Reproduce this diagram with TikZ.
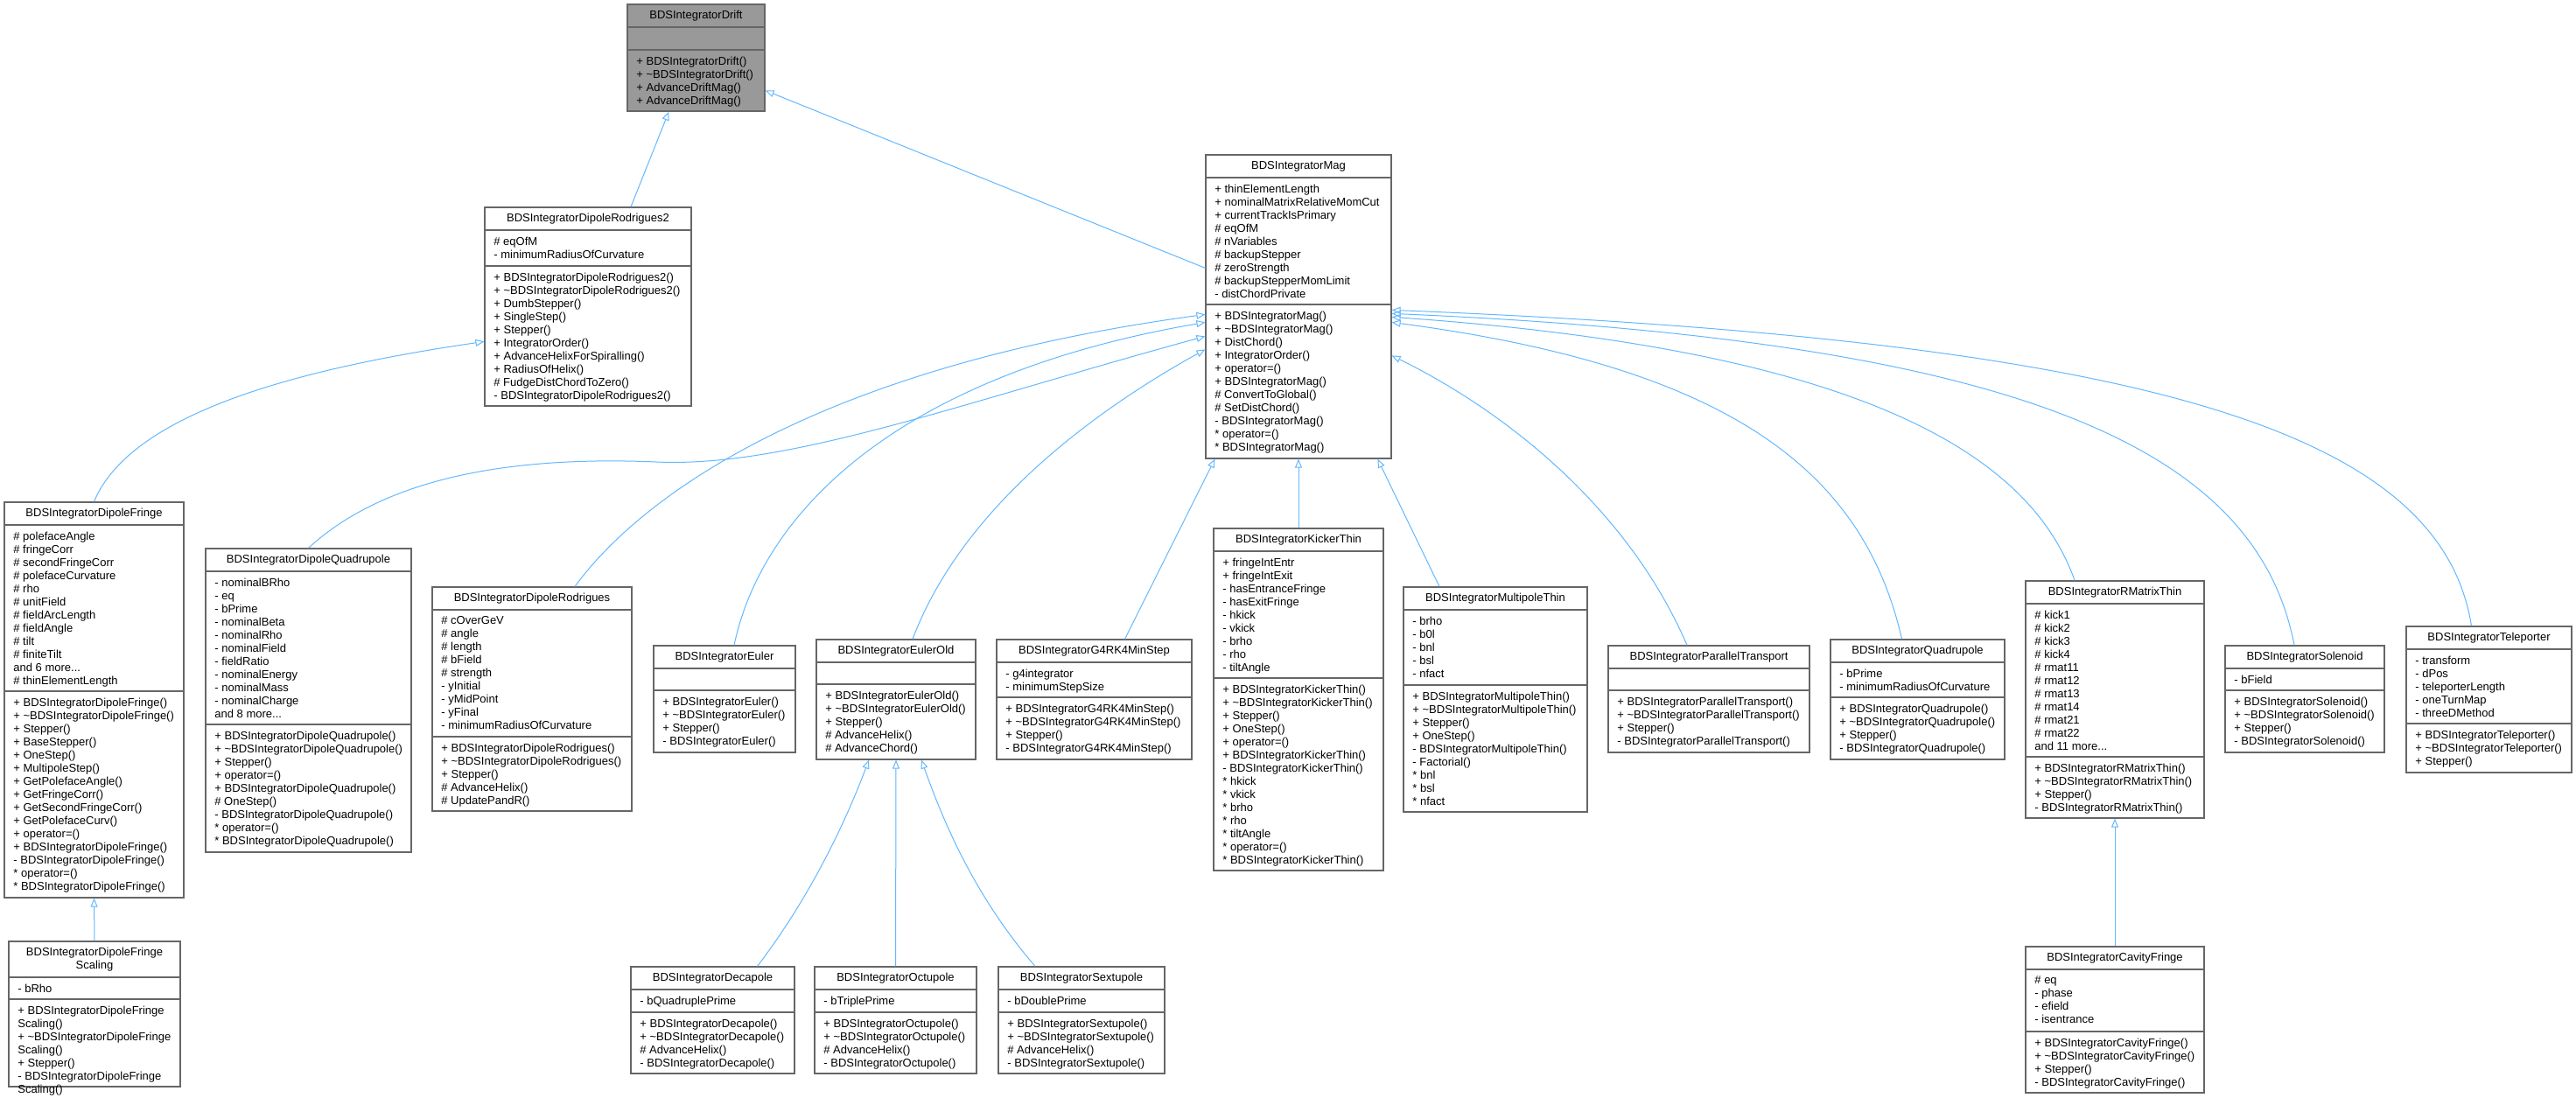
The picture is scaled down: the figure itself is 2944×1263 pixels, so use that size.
\documentclass[tikz,border=0pt]{standalone}
\usepackage{fontspec}
\setmainfont{Liberation Sans}
\usetikzlibrary{fit,calc,arrows.meta}
\definecolor{edgeblue}{HTML}{63B8FF}
\definecolor{boxgray}{HTML}{666666}
\definecolor{driftgray}{HTML}{999999}
\newcommand\tld{\textasciitilde}
\tikzset{
  box/.style={draw=boxgray,line width=0.6pt,inner sep=0pt},
  sepl/.style={draw=boxgray,line width=0.6pt},
  ttl/.style={inner sep=0pt,align=center,font=\fontsize{6.5}{7.5}\selectfont},
  txt/.style={anchor=north west,inner sep=0pt,align=left,font=\fontsize{6.5}{7.5}\selectfont},
  inh/.style={draw=edgeblue,line width=0.5pt,-{Triangle[open,length=5pt,width=4pt]}}
}
\newcommand\umlc[9]{%
  \node[box,fit={(#2,#3)(#4,#6)}] (#1) {};
  \draw[sepl] (#2,#3+26) -- (#4,#3+26);
  \draw[sepl] (#2,#5) -- (#4,#5);
  \node[ttl] (#1-t) at ({(#2+#4)/2},#3+13.5) {#7};
  \node[txt] (#1-a) at (#2+10,#3+33.5) {#8};
  \node[txt] (#1-m) at (#2+10,#5+7.5) {#9};
}
\begin{document}
\begin{tikzpicture}[x=0.5pt,y=-0.5pt]
\useasboundingbox (0,0) rectangle (2944,1263);
\fill[white] (0,0) rectangle (2944,1263);
\fill[driftgray] (717,5) rectangle (874,127);
\umlc{drift}{717}{5}{874}{57}{127}{BDSIntegratorDrift}{}{+ BDSIntegratorDrift()\\+ \tld{}BDSIntegratorDrift()\\+ AdvanceDriftMag()\\+ AdvanceDriftMag()}
\umlc{rodtwo}{554}{237}{790}{304}{464}{BDSIntegratorDipoleRodrigues2}{\# eqOfM\\- minimumRadiusOfCurvature}{+ BDSIntegratorDipoleRodrigues2()\\+ \tld{}BDSIntegratorDipoleRodrigues2()\\+ DumbStepper()\\+ SingleStep()\\+ Stepper()\\+ IntegratorOrder()\\+ AdvanceHelixForSpiralling()\\+ RadiusOfHelix()\\\# FudgeDistChordToZero()\\- BDSIntegratorDipoleRodrigues2()}
\umlc{mag}{1378}{177}{1590}{348}{524}{BDSIntegratorMag}{+ thinElementLength\\+ nominalMatrixRelativeMomCut\\+ currentTrackIsPrimary\\\# eqOfM\\\# nVariables\\\# backupStepper\\\# zeroStrength\\\# backupStepperMomLimit\\- distChordPrivate}{+ BDSIntegratorMag()\\+ \tld{}BDSIntegratorMag()\\+ DistChord()\\+ IntegratorOrder()\\+ operator=()\\+ BDSIntegratorMag()\\\# ConvertToGlobal()\\\# SetDistChord()\\- BDSIntegratorMag()\\* operator=()\\* BDSIntegratorMag()}
\umlc{fringe}{5}{574}{210}{790}{1026}{BDSIntegratorDipoleFringe}{\# polefaceAngle\\\# fringeCorr\\\# secondFringeCorr\\\# polefaceCurvature\\\# rho\\\# unitField\\\# fieldArcLength\\\# fieldAngle\\\# tilt\\\# finiteTilt\\and 6 more...\\\# thinElementLength}{+ BDSIntegratorDipoleFringe()\\+ \tld{}BDSIntegratorDipoleFringe()\\+ Stepper()\\+ BaseStepper()\\+ OneStep()\\+ MultipoleStep()\\+ GetPolefaceAngle()\\+ GetFringeCorr()\\+ GetSecondFringeCorr()\\+ GetPolefaceCurv()\\+ operator=()\\+ BDSIntegratorDipoleFringe()\\- BDSIntegratorDipoleFringe()\\* operator=()\\* BDSIntegratorDipoleFringe()}
% scaling box (two-line title)
\node[box,fit={(10,1076)(206,1242)}] (scal) {};
\draw[sepl] (10,1117) -- (206,1117);
\draw[sepl] (10,1142) -- (206,1142);
\node[ttl] (scal-t) at (108,1097) {BDSIntegratorDipoleFringe\\Scaling};
\node[txt] (scal-a) at (20,1124.5) {- bRho};
\node[txt] (scal-m) at (20,1149.5) {+ BDSIntegratorDipoleFringe\\Scaling()\\+ \tld{}BDSIntegratorDipoleFringe\\Scaling()\\+ Stepper()\\- BDSIntegratorDipoleFringe\\Scaling()};
\umlc{dquad}{235}{627}{470}{828}{974}{BDSIntegratorDipoleQuadrupole}{- nominalBRho\\- eq\\- bPrime\\- nominalBeta\\- nominalRho\\- nominalField\\- fieldRatio\\- nominalEnergy\\- nominalMass\\- nominalCharge\\and 8 more...}{+ BDSIntegratorDipoleQuadrupole()\\+ \tld{}BDSIntegratorDipoleQuadrupole()\\+ Stepper()\\+ operator=()\\+ BDSIntegratorDipoleQuadrupole()\\\# OneStep()\\- BDSIntegratorDipoleQuadrupole()\\* operator=()\\* BDSIntegratorDipoleQuadrupole()}
\umlc{rod}{494}{671}{722}{842}{927}{BDSIntegratorDipoleRodrigues}{\# cOverGeV\\\# angle\\\# length\\\# bField\\\# strength\\- yInitial\\- yMidPoint\\- yFinal\\- minimumRadiusOfCurvature}{+ BDSIntegratorDipoleRodrigues()\\+ \tld{}BDSIntegratorDipoleRodrigues()\\+ Stepper()\\\# AdvanceHelix()\\\# UpdatePandR()}
\umlc{euler}{747}{738}{909}{789}{860}{BDSIntegratorEuler}{}{+ BDSIntegratorEuler()\\+ \tld{}BDSIntegratorEuler()\\+ Stepper()\\- BDSIntegratorEuler()}
\umlc{eold}{933}{731}{1115}{782}{868}{BDSIntegratorEulerOld}{}{+ BDSIntegratorEulerOld()\\+ \tld{}BDSIntegratorEulerOld()\\+ Stepper()\\\# AdvanceHelix()\\\# AdvanceChord()}
\umlc{gfour}{1139}{731}{1362}{797}{868}{BDSIntegratorG4RK4MinStep}{- g4integrator\\- minimumStepSize}{+ BDSIntegratorG4RK4MinStep()\\+ \tld{}BDSIntegratorG4RK4MinStep()\\+ Stepper()\\- BDSIntegratorG4RK4MinStep()}
\umlc{kick}{1387}{604}{1581}{775}{995}{BDSIntegratorKickerThin}{+ fringeIntEntr\\+ fringeIntExit\\- hasEntranceFringe\\- hasExitFringe\\- hkick\\- vkick\\- brho\\- rho\\- tiltAngle}{+ BDSIntegratorKickerThin()\\+ \tld{}BDSIntegratorKickerThin()\\+ Stepper()\\+ OneStep()\\+ operator=()\\+ BDSIntegratorKickerThin()\\- BDSIntegratorKickerThin()\\* hkick\\* vkick\\* brho\\* rho\\* tiltAngle\\* operator=()\\* BDSIntegratorKickerThin()}
\umlc{multi}{1604}{671}{1814}{783}{928}{BDSIntegratorMultipoleThin}{- brho\\- b0l\\- bnl\\- bsl\\- nfact}{+ BDSIntegratorMultipoleThin()\\+ \tld{}BDSIntegratorMultipoleThin()\\+ Stepper()\\+ OneStep()\\- BDSIntegratorMultipoleThin()\\- Factorial()\\* bnl\\* bsl\\* nfact}
\umlc{par}{1838}{738}{2068}{789}{860}{BDSIntegratorParallelTransport}{}{+ BDSIntegratorParallelTransport()\\+ \tld{}BDSIntegratorParallelTransport()\\+ Stepper()\\- BDSIntegratorParallelTransport()}
\umlc{quad}{2092}{731}{2291}{797}{868}{BDSIntegratorQuadrupole}{- bPrime\\- minimumRadiusOfCurvature}{+ BDSIntegratorQuadrupole()\\+ \tld{}BDSIntegratorQuadrupole()\\+ Stepper()\\- BDSIntegratorQuadrupole()}
\umlc{rmat}{2315}{664}{2519}{865}{935}{BDSIntegratorRMatrixThin}{\# kick1\\\# kick2\\\# kick3\\\# kick4\\\# rmat11\\\# rmat12\\\# rmat13\\\# rmat14\\\# rmat21\\\# rmat22\\and 11 more...}{+ BDSIntegratorRMatrixThin()\\+ \tld{}BDSIntegratorRMatrixThin()\\+ Stepper()\\- BDSIntegratorRMatrixThin()}
\umlc{cav}{2315}{1082}{2519}{1179}{1249}{BDSIntegratorCavityFringe}{\# eq\\- phase\\- efield\\- isentrance}{+ BDSIntegratorCavityFringe()\\+ \tld{}BDSIntegratorCavityFringe()\\+ Stepper()\\- BDSIntegratorCavityFringe()}
\umlc{sol}{2543}{738}{2725}{789}{860}{BDSIntegratorSolenoid}{- bField}{+ BDSIntegratorSolenoid()\\+ \tld{}BDSIntegratorSolenoid()\\+ Stepper()\\- BDSIntegratorSolenoid()}
\umlc{tele}{2750}{716}{2939}{827}{883}{BDSIntegratorTeleporter}{- transform\\- dPos\\- teleporterLength\\- oneTurnMap\\- threeDMethod}{+ BDSIntegratorTeleporter()\\+ \tld{}BDSIntegratorTeleporter()\\+ Stepper()}
\umlc{deca}{721}{1105}{908}{1157}{1227}{BDSIntegratorDecapole}{- bQuadruplePrime}{+ BDSIntegratorDecapole()\\+ \tld{}BDSIntegratorDecapole()\\\# AdvanceHelix()\\- BDSIntegratorDecapole()}
\umlc{octu}{931}{1105}{1116}{1157}{1227}{BDSIntegratorOctupole}{- bTriplePrime}{+ BDSIntegratorOctupole()\\+ \tld{}BDSIntegratorOctupole()\\\# AdvanceHelix()\\- BDSIntegratorOctupole()}
\umlc{sext}{1141}{1105}{1331}{1157}{1227}{BDSIntegratorSextupole}{- bDoublePrime}{+ BDSIntegratorSextupole()\\+ \tld{}BDSIntegratorSextupole()\\\# AdvanceHelix()\\- BDSIntegratorSextupole()}
% inheritance edges
\draw[inh] ($(rodtwo.north)+(49,0)$) -- ($(drift.south west)+(48,0)$);
\draw[inh] ($(mag.north west)+(0,130)$) -- ($(drift.north east)+(0,99)$);
\draw[inh] (fringe.north) .. controls (150,470) and (350,420) .. ($(rodtwo.north west)+(0,154)$);
\draw[inh] (scal.north) -- (fringe.south);
\draw[inh] (dquad.north) .. controls (430,555) and (560,520) .. (750,528) .. controls (900,535) and (1100,460) .. ($(mag.north west)+(0,208)$);
\draw[inh] ($(rod.north)+(49,0)$) .. controls (730,570) and (930,420) .. ($(mag.north west)+(0,183)$);
\draw[inh] ($(euler.north)+(11,0)$) .. controls (870,590) and (1020,430) .. ($(mag.north west)+(0,192)$);
\draw[inh] ($(eold.north)+(19,0)$) .. controls (1100,580) and (1250,470) .. ($(mag.north west)+(0,223)$);
\draw[inh] ($(gfour.north)+(35,0)$) -- ($(mag.south west)+(11,0)$);
\draw[inh] (kick.north) -- (mag.south);
\draw[inh] ($(multi.north)+(-64,0)$) -- ($(mag.south west)+(197,0)$);
\draw[inh] ($(par.north)+(-25,0)$) .. controls (1860,580) and (1720,470) .. ($(mag.north east)+(0,230)$);
\draw[inh] ($(quad.north)+(-18,0)$) .. controls (2130,540) and (1980,420) .. ($(mag.north east)+(0,192)$);
\draw[inh] ($(rmat.north)+(-46,0)$) .. controls (2320,520) and (2130,400) .. ($(mag.north east)+(0,186)$);
\draw[inh] ($(sol.north)+(-12,0)$) .. controls (2580,520) and (2330,390) .. ($(mag.north east)+(0,182)$);
\draw[inh] ($(tele.north)+(-20,0)$) .. controls (2790,500) and (2480,390) .. ($(mag.north east)+(0,178)$);
\draw[inh] (cav.north) -- (rmat.south);
\draw[inh] ($(deca.north)+(51,0)$) .. controls (930,1020) and (970,930) .. ($(eold.south)+(-31,0)$);
\draw[inh] (octu.north) -- (eold.south);
\draw[inh] ($(sext.north)+(-53,0)$) .. controls (1110,1020) and (1075,930) .. ($(eold.south)+(29,0)$);
\end{tikzpicture}
\end{document}
